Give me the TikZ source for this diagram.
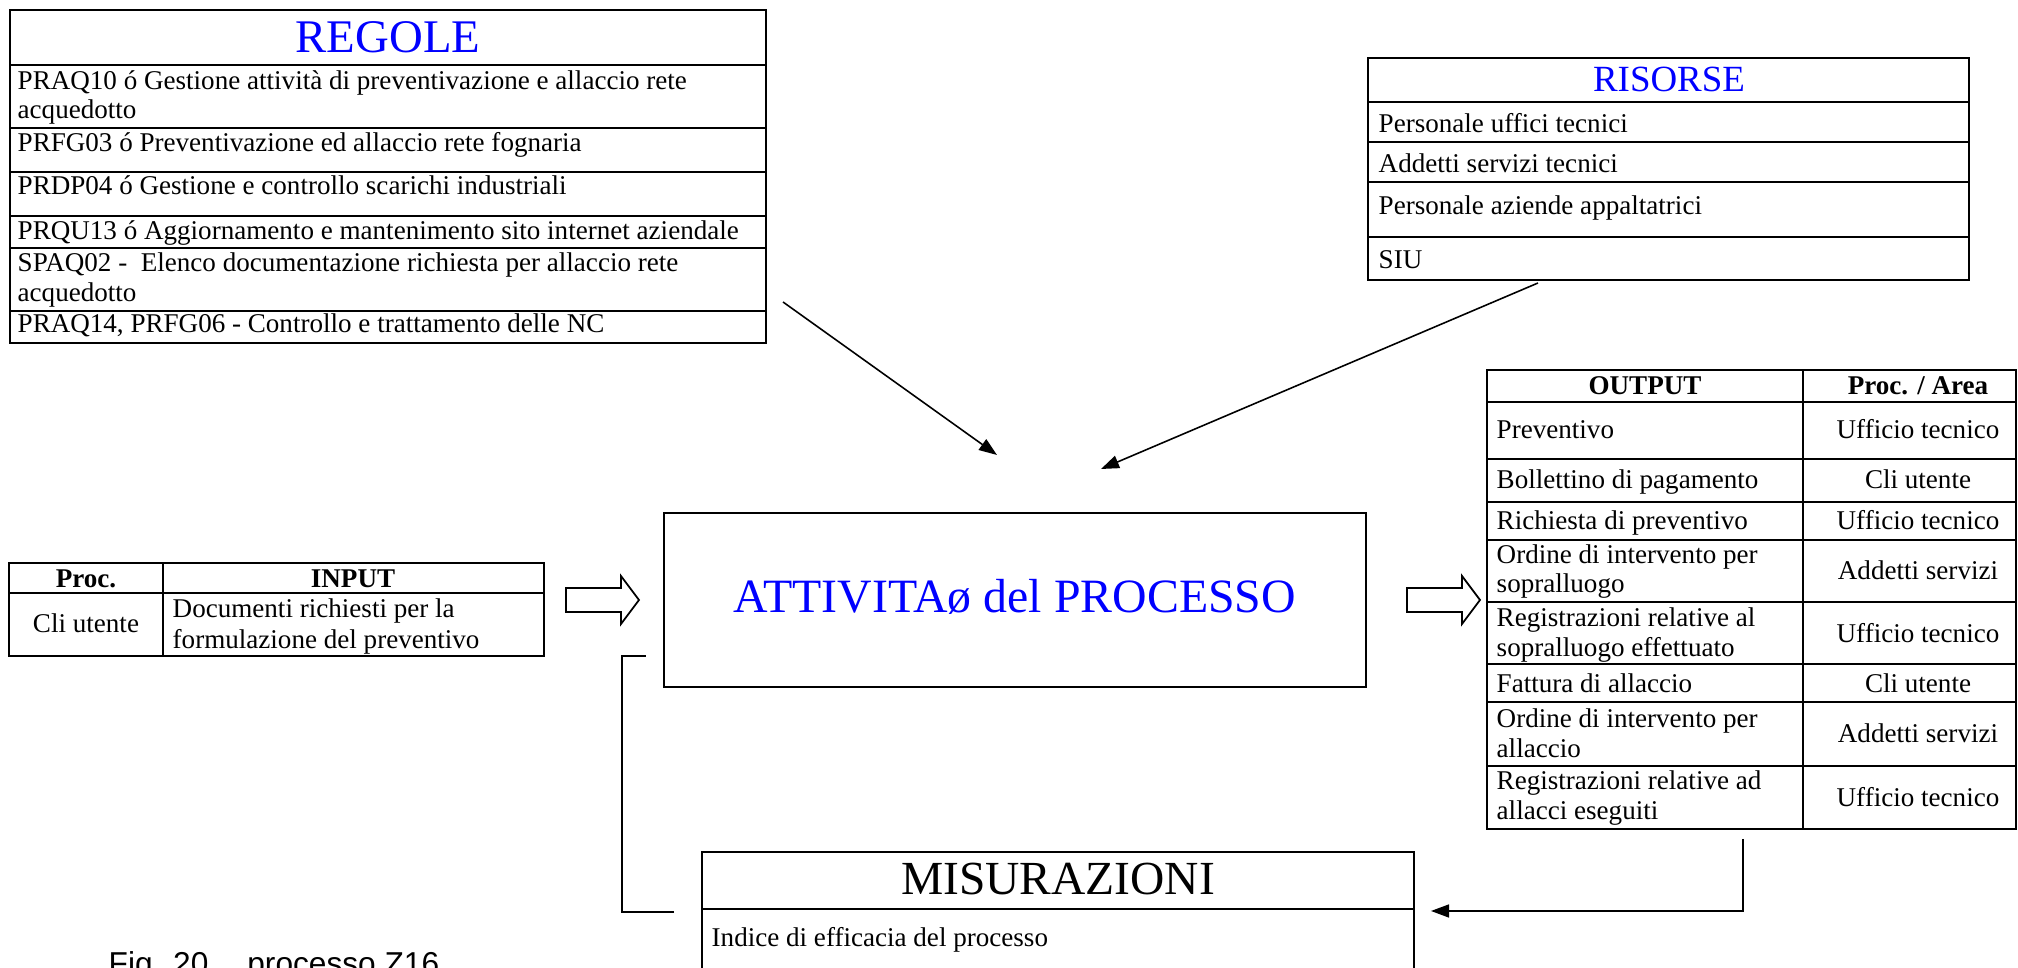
\documentclass[tikz,border=0pt]{standalone}
\usepackage{fontspec}
\setmainfont{Liberation Serif}
\newfontfamily\capfont{Liberation Sans}
\usepackage{tikz}
\usetikzlibrary{arrows.meta,positioning,fit}

\begin{document}
\begin{tikzpicture}[x=0.01cm,y=-0.01cm]
        \fontsize{7.7}{8.5}\selectfont
        \tikzstyle{box} = [rectangle,draw,line width=0.6pt,inner sep=0pt]
        \tikzstyle{txt} = [inner sep=0pt,anchor=base west]
        \tikzstyle{ctxt} = [inner sep=0pt,anchor=base]
        \tikzstyle{rule} = [line width=0.6pt]
        \tikzstyle{link} = [line width=0.45pt]
        \tikzstyle{arr} = [link,-{Triangle[length=1.8mm,width=1.3mm]}]
        \tikzstyle{hollow} = [draw,line width=0.5pt,line join=miter]

        \useasboundingbox (0,0) rectangle (2018,968);
        \clip (0,0) rectangle (2018,968);

        % regole
        \node[box,fit={(10,10) (766,343)}] (regole) {};
        \foreach \y in {65,128,172,216,248,311}
          \draw[rule] (10,\y) -- (766,\y);
        \node[ctxt,text=blue,font=\fontsize{13.3}{15}\selectfont] (regtitle) at (388,53) {REGOLE};
        \node[txt] (reg1) at (17,90) {PRAQ10 ó Gestione attività di preventivazione e allaccio rete};
        \node[txt] (reg1b) at (17,119) {acquedotto};
        \node[txt] (reg2) at (17,152) {PRFG03 ó Preventivazione ed allaccio rete fognaria};
        \node[txt] (reg3) at (17,195) {PRDP04 ó Gestione e controllo scarichi industriali};
        \node[txt] (reg4) at (17,240) {PRQU13 ó Aggiornamento e mantenimento sito internet aziendale};
        \node[txt] (reg5) at (17,272) {SPAQ02 -\ \ Elenco documentazione richiesta per allaccio rete};
        \node[txt] (reg5b) at (17,302) {acquedotto};
        \node[txt] (reg6) at (17,333) {PRAQ14, PRFG06 - Controllo e trattamento delle NC};

        % risorse
        \node[box,fit={(1368,58) (1969,280)}] (risorse) {};
        \foreach \y in {102,142,182,237}
          \draw[rule] (1368,\y) -- (1969,\y);
        \node[ctxt,text=blue,font=\fontsize{10.5}{12}\selectfont] (ristitle) at (1669,92) {RISORSE};
        \node[txt] (ris1) at (1378,133) {Personale uffici tecnici};
        \node[txt] (ris2) at (1378,173) {Addetti servizi tecnici};
        \node[txt] (ris3) at (1378,215) {Personale aziende appaltatrici};
        \node[txt] (ris4) at (1378,269) {SIU};

        % input
        \node[box,fit={(9,563) (544,656)}] (input) {};
        \draw[rule] (9,593) -- (544,593);
        \draw[rule] (163,563) -- (163,656);
        \node[ctxt] (inhead1) at (86,588) {\textbf{Proc.}};
        \node[ctxt] (inhead2) at (353,588) {\textbf{INPUT}};
        \node[ctxt] (inproc) at (86,633) {Cli utente};
        \node[txt] (indoc) at (172,618) {Documenti richiesti per la};
        \node[txt] (indocb) at (172,649) {formulazione del preventivo};

        % attivita
        \node[box,fit={(664,513) (1366,687)}] (attivita) {};
        \node[ctxt,text=blue,font=\fontsize{13.6}{16}\selectfont] (atttitle) at (1015,613) {ATTIVITAø del PROCESSO};

        % output
        \node[box,fit={(1487,370) (2016,829)}] (output) {};
        \foreach \y in {402,459,502,540,602,664,702,766}
          \draw[rule] (1487,\y) -- (2016,\y);
        \draw[rule] (1803,370) -- (1803,829);
        \node[ctxt] (outhead1) at (1645,395) {\textbf{OUTPUT}};
        \node[ctxt] (outhead2) at (1918,395) {\textbf{Proc. / Area}};
        \node[txt] (out1) at (1496,439) {Preventivo};
        \node[ctxt] (area1) at (1918,439) {Ufficio tecnico};
        \node[txt] (out2) at (1496,489) {Bollettino di pagamento};
        \node[ctxt] (area2) at (1918,489) {Cli utente};
        \node[txt] (out3) at (1496,530) {Richiesta di preventivo};
        \node[ctxt] (area3) at (1918,530) {Ufficio tecnico};
        \node[txt] (out4) at (1496,564) {Ordine di intervento per};
        \node[txt] (out4b) at (1496,593) {sopralluogo};
        \node[ctxt] (area4) at (1918,580) {Addetti servizi};
        \node[txt] (out5) at (1496,627) {Registrazioni relative al};
        \node[txt] (out5b) at (1496,657) {sopralluogo effettuato};
        \node[ctxt] (area5) at (1918,643) {Ufficio tecnico};
        \node[txt] (out6) at (1496,693) {Fattura di allaccio};
        \node[ctxt] (area6) at (1918,693) {Cli utente};
        \node[txt] (out7) at (1496,728) {Ordine di intervento per};
        \node[txt] (out7b) at (1496,758) {allaccio};
        \node[ctxt] (area7) at (1918,743) {Addetti servizi};
        \node[txt] (out8) at (1496,790) {Registrazioni relative ad};
        \node[txt] (out8b) at (1496,820) {allacci eseguiti};
        \node[ctxt] (area8) at (1918,807) {Ufficio tecnico};

        % misurazioni
        \node[box,fit={(702,852) (1414,990)}] (misure) {};
        \draw[rule] (702,909) -- (1414,909);
        \node[ctxt,font=\fontsize{13.5}{16}\selectfont] (mistitle) at (1058,895) {MISURAZIONI};
        \node[txt] (mis1) at (711,947) {Indice di efficacia del processo};

        % caption
        \node[txt,font=\capfont\fontsize{9}{11}\selectfont] (caption) at (108,975) {Fig. 20\hspace{0.39cm}processo Z16};

        % hollow arrows in / out
        \coordinate (inarr) at (566,600);
        \coordinate (outarr) at (1407,600);
        \draw[hollow] (inarr) ++(0,-12) -- ++(55,0) -- ++(0,-12) -- ++(18,24) -- ++(-18,24) -- ++(0,-12) -- ++(-55,0) -- cycle;
        \draw[hollow] (outarr) ++(0,-12) -- ++(55,0) -- ++(0,-12) -- ++(18,24) -- ++(-18,24) -- ++(0,-12) -- ++(-55,0) -- cycle;

        % links between boxes
        \coordinate (regtail) at (783,302);
        \coordinate (reghead) at (997,455);
        \coordinate (ristail) at (1538,283);
        \coordinate (rishead) at (1101,469);
        \coordinate (outtail) at (1743,839);
        \coordinate (mishead) at (1431,911);
        \coordinate (fbtail) at (674,912);
        \coordinate (fbhead) at (646,656);
        \draw[arr] (regtail) -- (reghead);
        \draw[arr] (ristail) -- (rishead);
        \draw[arr] (outtail) |- (mishead);
        \draw[link] (fbtail) -- ++(-52,0) |- (fbhead);
\end{tikzpicture}
\end{document}
